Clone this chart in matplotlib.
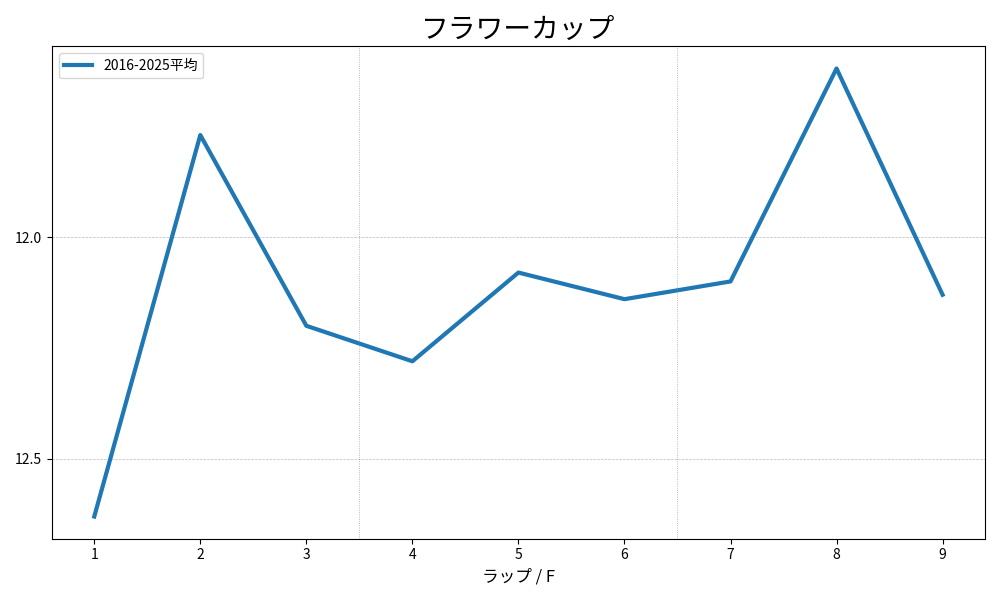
import matplotlib
matplotlib.use('Agg')
import matplotlib.pyplot as plt

plt.rcParams['font.family'] = ['Noto Sans CJK JP', 'DejaVu Sans']

# データ
ラップ = [1, 2, 3, 4, 5, 6, 7, 8, 9]
平均タイム = [12.63, 11.77, 12.20, 12.28, 12.08, 12.14, 12.10, 11.62, 12.13]
区切り = [3.5, 6.5]

fig, ax = plt.subplots(figsize=(10, 6), dpi=100)
ax.plot(ラップ, 平均タイム, color='#1f77b4', linewidth=3, label='2016-2025平均')

for x in 区切り:
    ax.axvline(x, color='gray', linestyle=':', linewidth=0.6, alpha=0.7)

ax.set_xticks(ラップ)
ax.set_yticks([12.0, 12.5])
ax.set_ylim(12.68, 11.57)
ax.grid(axis='y', linestyle='--', linewidth=0.5, color='#bbbbbb')
ax.set_xlabel('ラップ / F', fontsize=12)
ax.set_title('フラワーカップ', fontsize=20)
ax.legend(loc='upper left')

plt.tight_layout()
plt.savefig('out.png')
